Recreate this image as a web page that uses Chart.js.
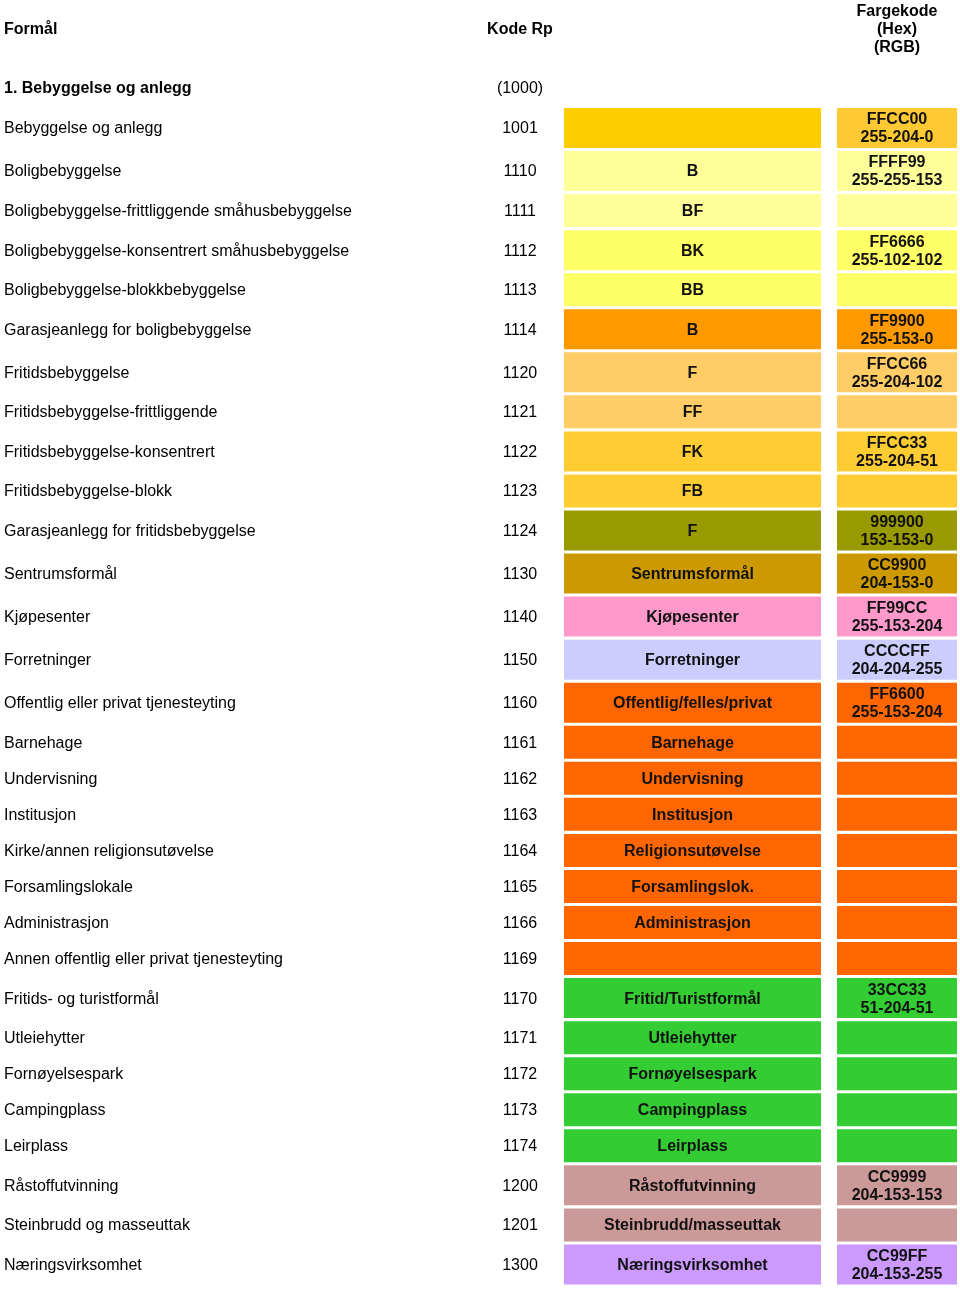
<!DOCTYPE html>
<html><head><meta charset="utf-8">
<script src="https://cdn.jsdelivr.net/npm/chart.js@4/dist/chart.umd.min.js"></script>
<style>html,body{margin:0;padding:0;background:#fff;}canvas{display:block;}</style>
</head><body>
<canvas id="c" width="960" height="1292"></canvas>
<script>
// ---------- DATA ----------
const formal = [
  'Bebyggelse og anlegg','Boligbebyggelse','Boligbebyggelse-frittliggende småhusbebyggelse',
  'Boligbebyggelse-konsentrert småhusbebyggelse','Boligbebyggelse-blokkbebyggelse',
  'Garasjeanlegg for boligbebyggelse','Fritidsbebyggelse','Fritidsbebyggelse-frittliggende',
  'Fritidsbebyggelse-konsentrert','Fritidsbebyggelse-blokk','Garasjeanlegg for fritidsbebyggelse',
  'Sentrumsformål','Kjøpesenter','Forretninger','Offentlig eller privat tjenesteyting',
  'Barnehage','Undervisning','Institusjon','Kirke/annen religionsutøvelse','Forsamlingslokale',
  'Administrasjon','Annen offentlig eller privat tjenesteyting','Fritids- og turistformål',
  'Utleiehytter','Fornøyelsespark','Campingplass','Leirplass','Råstoffutvinning',
  'Steinbrudd og masseuttak','Næringsvirksomhet'
];
const kodeRp = ['1001','1110','1111','1112','1113','1114','1120','1121','1122','1123','1124',
  '1130','1140','1150','1160','1161','1162','1163','1164','1165','1166','1169','1170','1171',
  '1172','1173','1174','1200','1201','1300'];
const feltTekst = ['','B','BF','BK','BB','B','F','FF','FK','FB','F','Sentrumsformål',
  'Kjøpesenter','Forretninger','Offentlig/felles/privat','Barnehage','Undervisning','Institusjon',
  'Religionsutøvelse','Forsamlingslok.','Administrasjon','','Fritid/Turistformål','Utleiehytter',
  'Fornøyelsespark','Campingplass','Leirplass','Råstoffutvinning','Steinbrudd/masseuttak',
  'Næringsvirksomhet'];
const hexKoder = ['FFCC00','FFFF99','','FF6666','','FF9900','FFCC66','','FFCC33','','999900',
  'CC9900','FF99CC','CCCCFF','FF6600','','','','','','','','33CC33','','','','','CC9999','','CC99FF'];
const rgbKoder = ['255-204-0','255-255-153','','255-102-102','','255-153-0','255-204-102','',
  '255-204-51','','153-153-0','204-153-0','255-153-204','204-204-255','255-153-204','','','','',
  '','','','51-204-51','','','','','204-153-153','','204-153-255'];
const fargeFelt = ['#FFCC00','#FFFF99','#FFFF99','#FFFF66','#FFFF66','#FF9900','#FFCC66','#FFCC66',
  '#FFCC33','#FFCC33','#999900','#CC9900','#FF99CC','#CCCCFF','#FF6600','#FF6600','#FF6600',
  '#FF6600','#FF6600','#FF6600','#FF6600','#FF6600','#33CC33','#33CC33','#33CC33','#33CC33',
  '#33CC33','#CC9999','#CC9999','#CC99FF'];
const fargeKodeFelt = ['#FFC933','#FFFF99','#FFFF99','#FFFF66','#FFFF66','#FF9900','#FFCC66','#FFCC66',
  '#FFCC33','#FFCC33','#999900','#CC9900','#FF99CC','#CCCCFF','#FF6600','#FF6600','#FF6600',
  '#FF6600','#FF6600','#FF6600','#FF6600','#FF6600','#33CC33','#33CC33','#33CC33','#33CC33',
  '#33CC33','#CC9999','#CC9999','#CC99FF'];
const overskrift = ['Formål','Kode Rp'];
const fargeOverskrift = ['Fargekode','(Hex)','(RGB)'];
const gruppe = ['1. Bebyggelse og anlegg','(1000)'];

// ---------- LAYOUT (table geometry) ----------
const L = {
  W: 960, H: 1292, top: 108, tall: 40, short: 33, gap: 3.05,
  labelX: 4, codeX: 520, cellX: [564, 821], hexX: [837, 957],
  headY: [10.5, 28.5, 47], groupY: 88, lineH: 18, textDy: 1,
  font: '"Liberation Sans", Arial, Helvetica, sans-serif'
};

// rows with a two-line colour code are tall, others short
const rows = [];
let cursor = L.top;
kodeRp.forEach((k, i) => {
  const tall = hexKoder[i] !== '';
  const h = tall ? L.tall : L.short;
  rows.push({ tall, center: cursor + h / 2 });
  cursor += h + L.gap;
});

function buildDataset(isTall) {
  const data = [], colors = [], texts = [];
  rows.forEach((r, i) => {
    if (r.tall !== isTall) return;
    data.push({ y: r.center, x: L.cellX.slice() });
    colors.push(fargeFelt[i]);
    texts.push(feltTekst[i] ? [feltTekst[i]] : []);
    data.push({ y: r.center, x: L.hexX.slice() });
    colors.push(fargeKodeFelt[i]);
    texts.push(hexKoder[i] ? [hexKoder[i], rgbKoder[i]] : []);
  });
  return {
    label: isTall ? 'høy' : 'lav', data, backgroundColor: colors, texts,
    barThickness: isTall ? L.tall : L.short, stack: 'rader',
    borderWidth: 0, inflateAmount: 0
  };
}

const tekstPlugin = {
  id: 'tekst',
  afterDatasetsDraw(chart) {
    const ctx = chart.ctx, xs = chart.scales.x, ys = chart.scales.y;
    const F = L.font, dy = L.textDy;
    const py = v => ys.getPixelForValue(v) + dy;
    ctx.save();
    ctx.fillStyle = '#000';
    ctx.textBaseline = 'middle';
    // header
    ctx.font = 'bold 16px ' + F;
    ctx.textAlign = 'left';
    ctx.fillText(overskrift[0], xs.getPixelForValue(L.labelX), py(L.headY[1]));
    ctx.textAlign = 'center';
    ctx.fillText(overskrift[1], xs.getPixelForValue(L.codeX), py(L.headY[1]));
    const hexMid = xs.getPixelForValue((L.hexX[0] + L.hexX[1]) / 2);
    fargeOverskrift.forEach((t, k) => ctx.fillText(t, hexMid, py(L.headY[k])));
    // group title
    ctx.textAlign = 'left';
    ctx.fillText(gruppe[0], xs.getPixelForValue(L.labelX), py(L.groupY));
    ctx.font = '16px ' + F;
    ctx.textAlign = 'center';
    ctx.fillText(gruppe[1], xs.getPixelForValue(L.codeX), py(L.groupY));
    // row labels and codes
    rows.forEach((r, i) => {
      const y = py(r.center);
      ctx.textAlign = 'left';
      ctx.fillText(formal[i], xs.getPixelForValue(L.labelX), y);
      ctx.textAlign = 'center';
      ctx.fillText(kodeRp[i], xs.getPixelForValue(L.codeX), y);
    });
    // cell texts
    ctx.font = 'bold 16px ' + F;
    ctx.fillStyle = '#111';
    ctx.textAlign = 'center';
    chart.data.datasets.forEach((ds, di) => {
      const meta = chart.getDatasetMeta(di);
      meta.data.forEach((el, j) => {
        const lines = ds.texts[j];
        const p = el.getProps(['x', 'y', 'base'], true);
        const cx = (p.x + p.base) / 2;
        lines.forEach((t, k) => ctx.fillText(t, cx, p.y + dy + (k - (lines.length - 1) / 2) * L.lineH));
      });
    });
    ctx.restore();
  }
};

new Chart(document.getElementById('c'), {
  type: 'bar',
  data: { datasets: [buildDataset(true), buildDataset(false)] },
  options: {
    indexAxis: 'y',
    responsive: false,
    animation: false,
    devicePixelRatio: 1,
    events: [],
    layout: { padding: 0 },
    plugins: { legend: { display: false }, tooltip: { enabled: false } },
    scales: {
      x: { type: 'linear', min: 0, max: L.W, display: false, stacked: false, offset: false },
      y: { type: 'linear', min: 0, max: L.H, reverse: true, display: false, stacked: true,
           offset: false, grid: { offset: false } }
    }
  },
  plugins: [tekstPlugin]
});
</script>
</body></html>
